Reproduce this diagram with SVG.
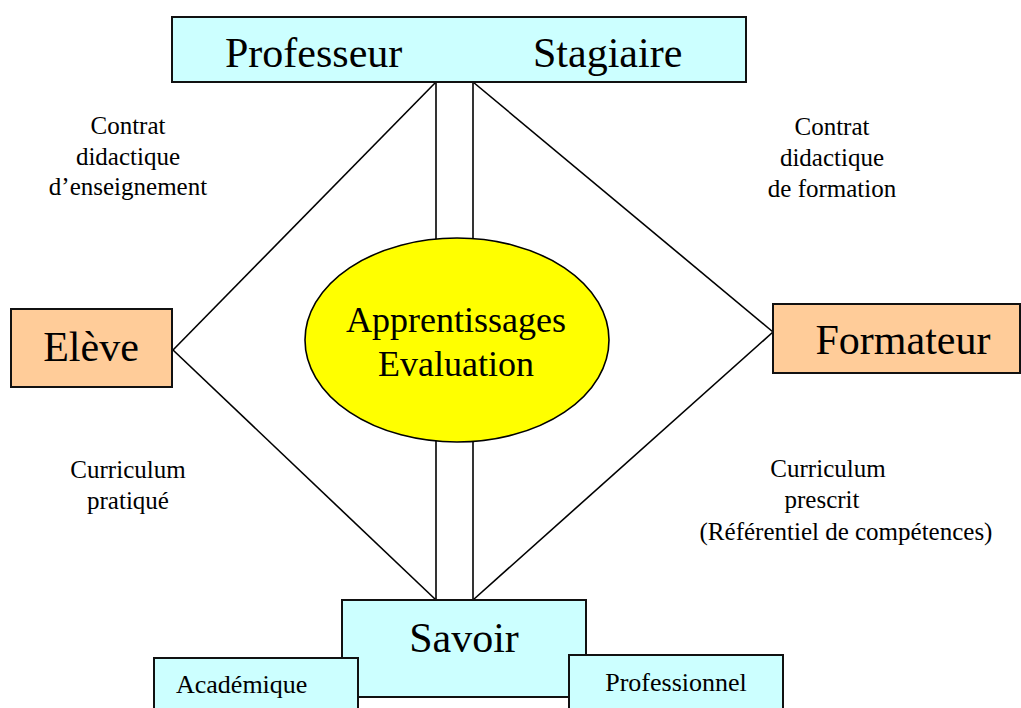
<svg xmlns="http://www.w3.org/2000/svg" width="1021" height="708" viewBox="0 0 1021 708">
<style>
.box{stroke:#111;stroke-width:2}
.cyan{fill:#CCFFFF}
.orange{fill:#FFCC99}
.t{fill:#000;font-family:'Liberation Serif',Tinos,'Times New Roman',Times,serif}
.big{font-size:42px}
.mid{font-size:36px}
.sm{font-size:26px}
.lbl{font-size:25px;text-anchor:middle}
.conn line{stroke:#000;stroke-width:1.6}
</style>
<rect width="1021" height="708" fill="#fff"/>
<g class="conn" id="connectors">
<line x1="436" y1="82" x2="173" y2="350"/>
<line x1="436" y1="82" x2="436" y2="240"/>
<line x1="473" y1="82" x2="473" y2="240"/>
<line x1="473" y1="82" x2="773" y2="332"/>
<line x1="173" y1="350" x2="436" y2="600"/>
<line x1="436" y1="440" x2="436" y2="600"/>
<line x1="473" y1="440" x2="473" y2="600"/>
<line x1="773" y1="332" x2="473" y2="600"/>
</g>
<g id="professeur-stagiaire">
<rect class="box cyan" x="172" y="17" width="574" height="65"/>
<text class="t big" x="225" y="67">Professeur</text>
<text class="t big" x="533" y="67">Stagiaire</text>
</g>
<g id="eleve">
<rect class="box orange" x="11" y="309" width="161" height="78"/>
<text class="t big" x="91" y="361" text-anchor="middle">Elève</text>
</g>
<g id="formateur">
<rect class="box orange" x="773" y="304" width="247" height="69"/>
<text class="t big" x="903" y="354" text-anchor="middle">Formateur</text>
</g>
<g id="centre">
<ellipse cx="457" cy="340" rx="152" ry="102" fill="#FFFF00" stroke="#000" stroke-width="1.6"/>
<text class="t mid" x="456" y="332" text-anchor="middle">Apprentissages</text>
<text class="t mid" x="456" y="376" text-anchor="middle">Evaluation</text>
</g>
<g id="savoir">
<rect class="box cyan" x="342" y="600" width="244" height="97"/>
<text class="t big" x="464" y="652" text-anchor="middle">Savoir</text>
</g>
<g id="academique">
<rect class="box cyan" x="154" y="658" width="204" height="60"/>
<text class="t sm" x="176" y="693">Académique</text>
</g>
<g id="professionnel">
<rect class="box cyan" x="569" y="655" width="214" height="63"/>
<text class="t sm" x="676" y="691" text-anchor="middle">Professionnel</text>
</g>
<g id="labels">
<text class="t lbl" x="128" y="134">Contrat</text>
<text class="t lbl" x="128" y="165">didactique</text>
<text class="t lbl" x="128" y="195">d’enseignement</text>
<text class="t lbl" x="832" y="135">Contrat</text>
<text class="t lbl" x="832" y="166">didactique</text>
<text class="t lbl" x="832" y="197">de formation</text>
<text class="t lbl" x="128" y="478">Curriculum</text>
<text class="t lbl" x="128" y="509">pratiqué</text>
<text class="t lbl" x="828" y="477">Curriculum</text>
<text class="t lbl" x="822" y="508">prescrit</text>
<text class="t lbl" x="846" y="540">(Référentiel de compétences)</text>
</g>
</svg>
